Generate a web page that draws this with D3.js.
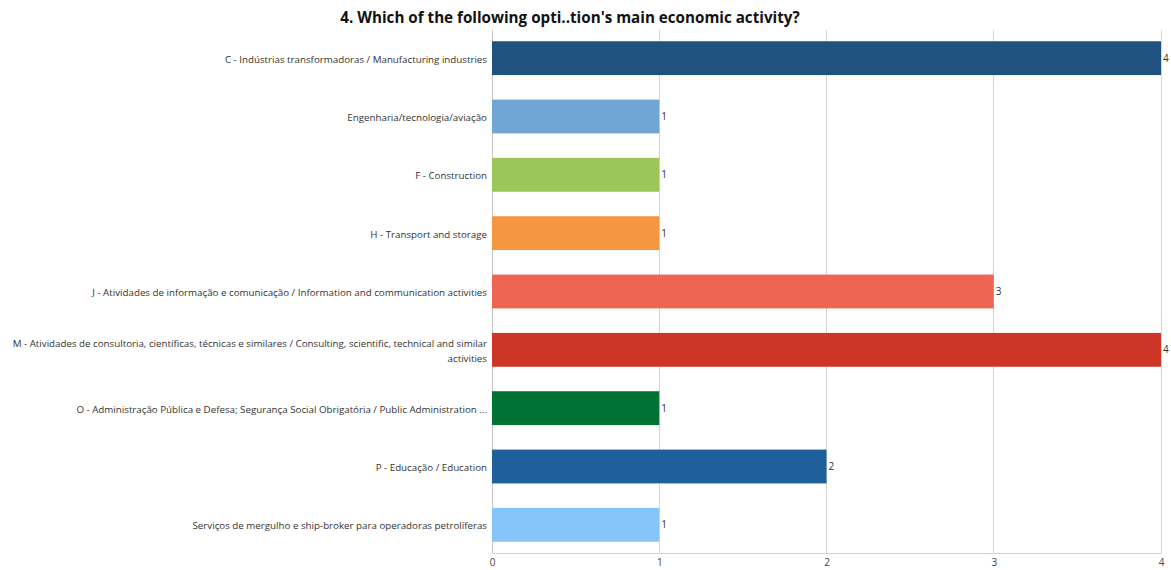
<!DOCTYPE html>
<html><head><meta charset="utf-8">
<script src="https://cdn.jsdelivr.net/npm/d3@7"></script>
<style>body{margin:0;background:#fff;}svg{display:block;font-family:"Open Sans",sans-serif;}</style>
</head><body><svg id="c" width="1171" height="570"></svg>
<script>
const categories = [
  ["C - Indústrias transformadoras / Manufacturing industries"],
  ["Engenharia/tecnologia/aviação"],
  ["F - Construction"],
  ["H - Transport and storage"],
  ["J - Atividades de informação e comunicação / Information and communication activities"],
  ["M - Atividades de consultoria, científicas, técnicas e similares / Consulting, scientific, technical and similar", "activities"],
  ["O - Administração Pública e Defesa; Segurança Social Obrigatória / Public Administration ..."],
  ["P - Educação / Education"],
  ["Serviços de mergulho e ship-broker para operadoras petrolíferas"]
];
const values = [4, 1, 1, 1, 3, 4, 1, 2, 1];
const colors = ["#1F527F", "#6FA6D4", "#9BC659", "#F49740", "#EE6651", "#CD3627", "#007233", "#20609A", "#86C5F9"];
const xTicks = [0, 1, 2, 3, 4];
const title = "4. Which of the following opti..tion's main economic activity?";

const svg = d3.select("#c");
const x = d3.scaleLinear().domain([0, 4]).range([492, 1161]);
const y = d3.scaleBand().domain(d3.range(categories.length)).range([29, 554]).paddingInner(0.42).paddingOuter(0.21);

svg.append("text").attr("x", 570).attr("y", 23).attr("text-anchor", "middle")
  .attr("font-size", 15.2).attr("font-weight", "bold").attr("fill", "#111").text(title);

// grid
svg.append("g").selectAll("line").data(xTicks).join("line")
  .attr("x1", d => x(d)).attr("x2", d => x(d)).attr("y1", 30).attr("y2", 553)
  .attr("stroke", "#d4d4d4").attr("stroke-width", 1).attr("shape-rendering", "crispEdges");

// bottom axis
const xa = svg.append("g").attr("transform", "translate(0,553)").call(d3.axisBottom(x).tickValues(xTicks).tickSize(0).tickPadding(6).tickFormat(d3.format("d")));
xa.select(".domain").attr("stroke", "#d4d4d4");
xa.selectAll("text").attr("font-size", 10).attr("fill", "#444").attr("font-family", "Open Sans");

// left axis line
svg.append("line").attr("x1", 492).attr("x2", 492).attr("y1", 30).attr("y2", 553).attr("stroke", "#c8c8c8").attr("shape-rendering", "crispEdges");

// bars
svg.append("g").selectAll("rect").data(values).join("rect")
  .attr("x", x(0)).attr("y", (d, i) => y(i)).attr("width", d => x(d) - x(0)).attr("height", y.bandwidth())
  .attr("fill", (d, i) => colors[i]);

// value labels
svg.append("g").selectAll("text").data(values).join("text")
  .attr("x", d => x(d) + 2).attr("y", (d, i) => y(i) + y.bandwidth() / 2).attr("dy", "0.35em")
  .attr("font-size", 10).attr("fill", "#333").text(d => d);

// category labels
const lab = svg.append("g").selectAll("text").data(categories).join("text")
  .attr("x", 487).attr("y", (d, i) => y(i) + y.bandwidth() / 2 + 1)
  .attr("text-anchor", "end").attr("font-size", 9.75).attr("fill", "#333");
lab.each(function(d) {
  const t = d3.select(this);
  const n = d.length;
  d.forEach((line, k) => {
    t.append("tspan").attr("x", 487).attr("dy", k === 0 ? (0.35 - (n - 1) * 0.77) + "em" : "1.54em").text(line);
  });
});
</script></body></html>
